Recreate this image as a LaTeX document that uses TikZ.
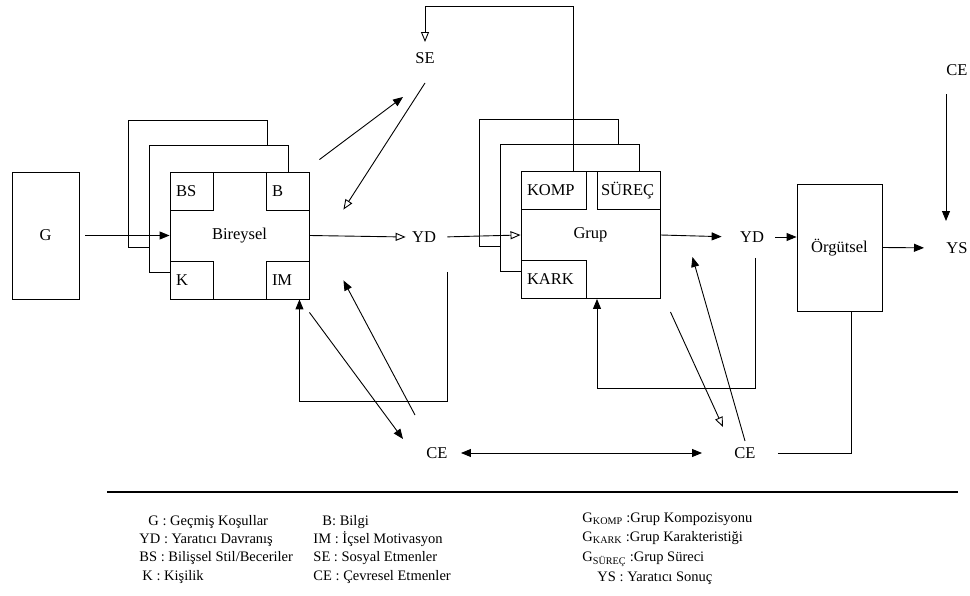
\documentclass[tikz,border=0pt]{standalone}
\usepackage{fontspec}
\setmainfont{Liberation Serif}
\usetikzlibrary{arrows.meta, positioning}

\begin{document}
\begin{tikzpicture}[x=1pt, y=-1pt, line width=0.9pt,
  every node/.style={font=\fontsize{16.5}{19}\selectfont},
  box/.style={rectangle, draw, fill=white, minimum width=#1, minimum height=127pt, inner sep=0pt},
  box/.default=139pt,
  part/.style={rectangle, draw, fill=white, minimum height=38pt, inner xsep=6pt, text width=#1, align=left},
  lbl/.style={inner sep=6pt},
  key/.style={anchor=base west, inner sep=0pt, font=\fontsize{14.5}{17}\selectfont},
  arr/.style={-{Triangle[length=10pt,width=8pt]}},
  oarr/.style={-{Triangle[open,length=10pt,width=8pt]}},
  biarr/.style={{Triangle[length=10pt,width=8pt]}-{Triangle[length=10pt,width=8pt]}}]
  \useasboundingbox (0,0) rectangle (970,596);
  \node[box=67pt] (g) at (45.5,235.5) {G};
  \foreach \dx/\dy/\n in {-42/-52/a, -21/-27/b} {
    \node[box] (bir\n) at (239.5+\dx,235.5+\dy) {};
    \node[box] (grup\n) at (590.5+\dx,235+\dy) {};
  }
  \node[box] (bir) at (239.5,235.5) {Bireysel};
  \node[part=31pt, anchor=north west] (bs) at (bir.north west) {BS};
  \node[part=31pt, anchor=north east] (b) at (bir.north east) {B};
  \node[part=31pt, anchor=south west] (k) at (bir.south west) {K};
  \node[part=31pt, anchor=south east] (im) at (bir.south east) {IM};
  \node[box] (grup) at (590.5,235) {Grup};
  \node[part=53pt, anchor=north west] (komp) at (grup.north west) {KOMP};
  \node[part=55pt, inner xsep=4pt, anchor=north east] (surec) at (grup.north east) {SÜREÇ};
  \node[part=53pt, anchor=south west] (kark) at (grup.south west) {KARK};
  \node[box=85pt] (org) at (839.5,247.5) {Örgütsel};
  \node[lbl] (se) at (425,58) {SE};
  \node[lbl] (yd1) at (424,237) {YD};
  \node[lbl] (yd2) at (752,237) {YD};
  \node[lbl] (ys) at (957,248) {YS};
  \node[lbl, above=154pt of ys] (ce3) {CE};
  \node[lbl] (ce1) at (437,453) {CE};
  \node[lbl] (ce2) at (745,453) {CE};

  \draw[arr] ([xshift=6pt]g.east) -- (bir.west);
  \draw[oarr] (bir.east) -- (yd1.west);
  \draw[oarr, shorten <=5pt] (yd1.east) -- (grup.west);
  \draw[arr] ([shift={(10,-12)}]bir.north east) -- ([shift={(-22,39)}]se.center);
  \draw[oarr] ([shift={(0,25)}]se.center) -- ([shift={(34,38)}]bir.north east);
  \draw[oarr] ([xshift=53pt]grup.north west) -- ++(0,-165) -| ([yshift=4pt]se.north);
  \draw[arr] ([shift={(0,13)}]bir.south east) -- ([shift={(-34,-14)}]ce1.center);
  \draw[arr] ([shift={(-22,-38)}]ce1.center) -- ([shift={(34,-19)}]bir.south east);
  \draw[arr] ([shift={(23,35)}]yd1.center) -- ++(0,129) -| ([xshift=-10pt]bir.south east);
  \draw[biarr, shorten <=7pt, shorten >=26pt] (ce1.east) -- (ce2.west);
  \draw[arr, shorten >=12pt] (grup.east) -- (yd2.west);
  \draw[arr, shorten <=5pt] (yd2.east) -- (yd2.east -| org.west);
  \draw[arr, shorten >=16pt] (org.east) -- (ys.west);
  \draw[arr, shorten <=12pt, shorten >=15pt] ([xshift=-11pt]ce3.south) -- ([xshift=-11pt]ys.north);
  \draw[arr] ([shift={(3,21)}]yd2.center) -- ++(0,130) -| ([xshift=6.5pt]grup.south);
  \draw[oarr] ([shift={(10,13)}]grup.south east) -- ([shift={(-22,-26)}]ce2.center);
  \draw[arr] ([shift={(0,-12)}]ce2.center) -- ([shift={(32,22)}]grup.east);
  \draw[shorten <=16pt] (ce2.east) -| ([xshift=11.5pt]org.south);

  \draw[line width=1.5pt] (107,492) -- (958,492);
  \node[key] (kg) at (148,525) {G : Geçmiş Koşullar};
  \node[key] (kyd) at (139,543.5) {YD : Yaratıcı Davranış};
  \node[key] (kbs) at (139,561.5) {BS : Bilişsel Stil/Beceriler};
  \node[key] (kk) at (142,580.5) {K : Kişilik};
  \node[key] (kb) at (322,525) {B: Bilgi};
  \node[key] (kim) at (313,543.5) {IM : İçsel Motivasyon};
  \node[key] (kse) at (313,561.5) {SE : Sosyal Etmenler};
  \node[key] (kce) at (313,580.5) {CE : Çevresel Etmenler};
  \node[key] (kkomp) at (582,522) {G\textsubscript{KOMP} :Grup Kompozisyonu};
  \node[key] (kkark) at (582,541.5) {G\textsubscript{KARK} :Grup Karakteristiği};
  \node[key] (ksurec) at (582,561.5) {G\textsubscript{SÜREÇ} :Grup Süreci};
  \node[key] (kys) at (597,581.5) {YS : Yaratıcı Sonuç};
\end{tikzpicture}
\end{document}
